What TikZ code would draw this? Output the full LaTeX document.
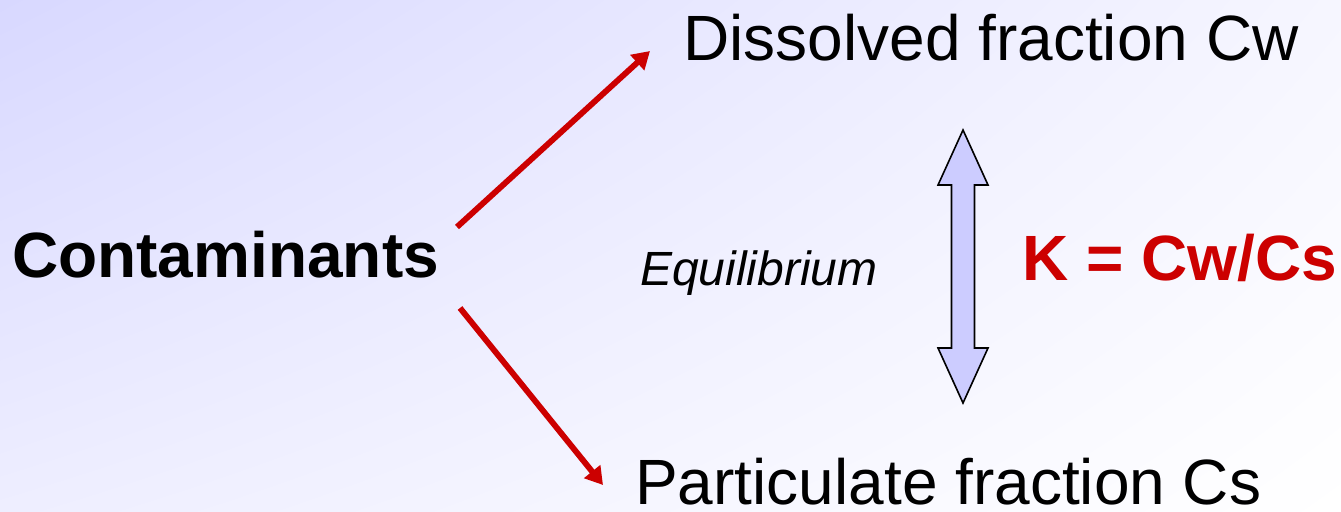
\documentclass[tikz,border=0pt]{standalone}
\usepackage{fontspec}
\setmainfont{Liberation Sans}
\usetikzlibrary{arrows.meta, positioning, shadings}

\definecolor{bgtop}{RGB}{216,216,255}
\definecolor{bgright}{RGB}{246,246,255}
\definecolor{bgleft}{RGB}{238,238,255}
\definecolor{darkred}{RGB}{204,0,0}
\definecolor{lilac}{RGB}{204,204,255}

\tikzset{
  bigtext/.style={inner sep=0pt, anchor=base west, font=\fontsize{48}{58}\selectfont},
  flowarrow/.style={draw=darkred, line width=4.4pt, -{Triangle[length=13pt, width=15pt]}},
}

\begin{document}
\begin{tikzpicture}[x=0.75pt, y=-0.75pt]
      % background
      \shade[upper left=bgtop, upper right=bgright, lower left=bgleft, lower right=white]
        (0,0) rectangle (1341,511);
      \useasboundingbox (0,0) rectangle (1341,511);

      \node[bigtext, font=\fontsize{48}{58}\selectfont\bfseries] (cont) at (12,277) {Contaminants};
      \node[bigtext] (diss) at (683,60) {Dissolved fraction Cw};
      \node[bigtext] (part) at (635,504) {Particulate fraction Cs};
      \node[inner sep=0pt, anchor=base west, font=\fontsize{36}{43}\selectfont\itshape] (equi) at (640,285) {Equilibrium};
      \node[bigtext, font=\fontsize{48}{58}\selectfont\bfseries, text=darkred] (kval) at (1022,280) {K = Cw/Cs};

      \coordinate (upstart) at (457,227);
      \coordinate (upend) at (650,51);
      \coordinate (downstart) at (460,308);
      \coordinate (downend) at (603,485);
      \draw[flowarrow] (upstart) -- (upend);
      \draw[flowarrow] (downstart) -- (downend);

      % double arrow between the two fractions
      \coordinate (eq) at (963,266);
      \filldraw[fill=lilac, draw=black, line width=1.2pt, line join=miter]
        (963,130) -- (988,185) -- (974.5,185) -- (974.5,348) -- (988,348)
        -- (963,403) -- (938,348) -- (951.5,348) -- (951.5,185) -- (938,185) -- cycle;
    \end{tikzpicture}
\end{document}
